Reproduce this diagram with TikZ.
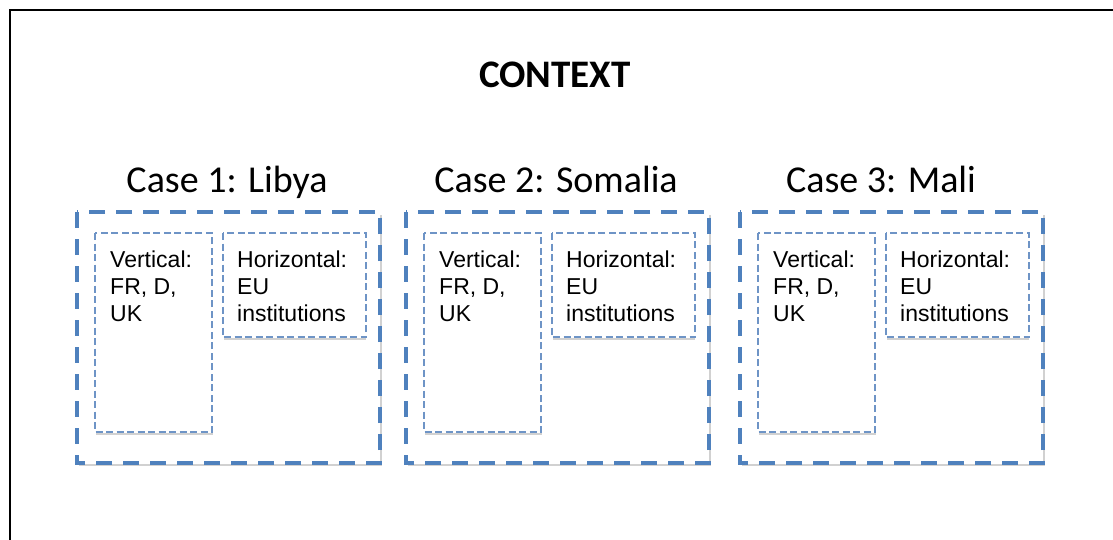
\documentclass[tikz,border=0pt]{standalone}
\usepackage{fontspec}
\setmainfont{Liberation Sans}
\newfontfamily\calfont{Carlito}
\definecolor{dashblue}{RGB}{79,129,189}
\definecolor{thinblue}{RGB}{110,148,198}
\begin{document}
\begin{tikzpicture}[x=1pt,y=1pt,
  casebox/.style={draw=dashblue, line width=3.8pt, dash pattern=on 16pt off 11pt, fill=white},
  innerbox/.style={draw=thinblue, line width=1.1pt, dash pattern=on 7pt off 3.5pt, fill=white},
  shadowline/.style={draw=black!18, line width=1.2pt},
  casetitle/.style={font=\calfont\fontsize{38}{44}\selectfont, anchor=base, inner sep=0pt},
  innertext/.style={font=\fontsize{23}{27}\selectfont, anchor=north west, align=left, inner sep=0pt},
]
\useasboundingbox (0,0) rectangle (1113,-540);
\fill[white] (0,0) rectangle (1113,-540);
% frame
\coordinate (fr) at (1113,-10);
\coordinate (fc) at (10,-10);
\coordinate (fb) at (10,-540);
\draw[line width=1.8pt] (fr) -- (fc) -- (fb);

\node[font=\calfont\bfseries\fontsize{39}{46}\selectfont, anchor=base, inner sep=0pt] (context) at (555,-88) {CONTEXT};

\foreach \i/\x/\tx/\ttl in {1/77/227/{Case 1: Libya},2/406/556/{Case 2: Somalia},3/740/881/{Case 3: Mali}}{
  \node[casetitle] (title\i) at (\tx,-193) {\ttl};
  % shadows
  \draw[shadowline] (\x+2,-465) -- (\x+304,-465) -- (\x+304,-215);
  \draw[casebox] (\x,-212) rectangle (\x+303,-463);
  \coordinate (case\i) at (\x,-212);
  \draw[shadowline] (\x+19,-434) -- (\x+136,-434);
  \draw[shadowline] (\x+147,-339) -- (\x+289,-339);
  \draw[innerbox] (\x+18,-233) rectangle (\x+135,-432);
  \draw[innerbox] (\x+146,-233) rectangle (\x+289,-337);
  \node[innertext] (vert\i) at (\x+33,-251) {Vertical:\\FR, D,\\UK};
  \node[innertext] (hor\i) at (\x+160,-251) {Horizontal:\\EU\\institutions};
}
\end{tikzpicture}
\end{document}
